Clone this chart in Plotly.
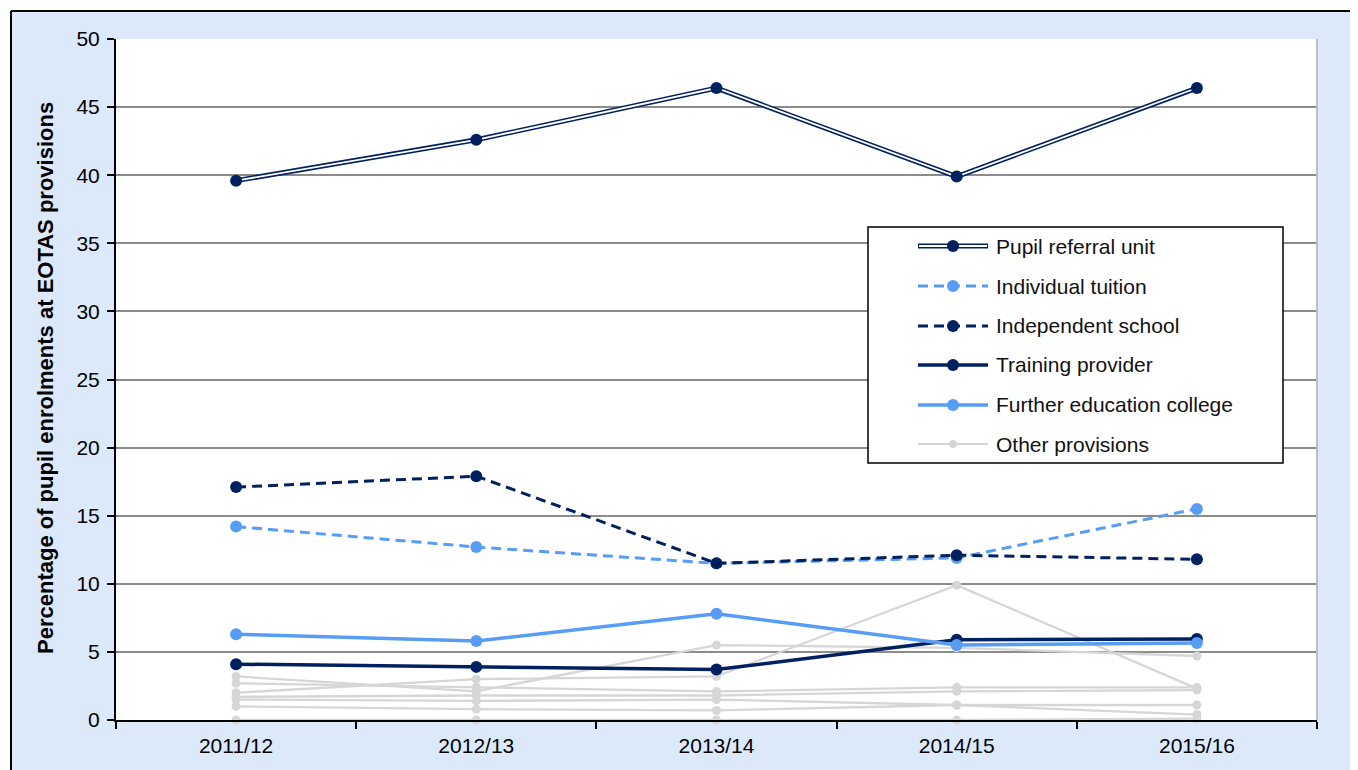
import plotly.graph_objects as go

years = ["2011/12", "2012/13", "2013/14", "2014/15", "2015/16"]

pupil_referral_unit = [39.6, 42.6, 46.4, 39.9, 46.4]
individual_tuition = [14.2, 12.7, 11.5, 11.9, 15.5]
independent_school = [17.1, 17.9, 11.5, 12.1, 11.8]
training_provider = [4.1, 3.9, 3.7, 5.9, 5.95]
further_education_college = [6.3, 5.8, 7.8, 5.5, 5.65]

other_provisions = [
    [3.2, 2.1, 5.5, 5.3, 4.7],
    [2.0, 3.0, 3.2, 9.9, 2.3],
    [2.7, 2.4, 2.1, 2.4, 2.4],
    [1.7, 1.8, 1.8, 2.1, 2.2],
    [1.5, 1.4, 1.5, 1.1, 1.1],
    [1.0, 0.8, 0.7, 1.1, 0.4],
    [0.0, 0.0, 0.0, 0.0, 0.1],
]

legend_labels = ["Pupil referral unit", "Individual tuition", "Independent school",
                 "Training provider", "Further education college", "Other provisions"]

NAVY = "#002060"
LIGHT = "#579DF6"
GREY = "#d6d6d6"
FONT = "Arial, Liberation Sans, sans-serif"

fig = go.Figure()

for s in other_provisions:
    fig.add_trace(go.Scatter(x=years, y=s, mode="lines+markers",
                             line=dict(color=GREY, width=2.3),
                             marker=dict(color=GREY, size=9),
                             cliponaxis=False, showlegend=False))

# Pupil referral unit (double line)
fig.add_trace(go.Scatter(x=years, y=pupil_referral_unit, mode="lines",
                         line=dict(color=NAVY, width=5), showlegend=False))
fig.add_trace(go.Scatter(x=years, y=pupil_referral_unit, mode="lines",
                         line=dict(color="white", width=1.8), showlegend=False))
fig.add_trace(go.Scatter(x=years, y=pupil_referral_unit, mode="markers",
                         marker=dict(color=NAVY, size=12), showlegend=False))

fig.add_trace(go.Scatter(x=years, y=individual_tuition, mode="lines+markers",
                         line=dict(color=LIGHT, width=3, dash="10px,6px"),
                         marker=dict(color=LIGHT, size=12), showlegend=False))
fig.add_trace(go.Scatter(x=years, y=independent_school, mode="lines+markers",
                         line=dict(color=NAVY, width=3, dash="10px,6px"),
                         marker=dict(color=NAVY, size=12), showlegend=False))
fig.add_trace(go.Scatter(x=years, y=training_provider, mode="lines+markers",
                         line=dict(color=NAVY, width=3.5),
                         marker=dict(color=NAVY, size=12), showlegend=False))
fig.add_trace(go.Scatter(x=years, y=further_education_college, mode="lines+markers",
                         line=dict(color=LIGHT, width=3.5),
                         marker=dict(color=LIGHT, size=12), showlegend=False))

# page body has an 8px margin; figure sized so that it fits the window
OFF = 8
W, H = 1358 - OFF, 770 - OFF
L, R, T, B = 116, 1317, 39, 720   # plot area in window pixels
pw, ph = R - L, B - T


def px(x):
    return (x - L) / pw


def py(y):
    return (B - y) / ph


shapes = []
annotations = []

# white strips outside the outer border, and the border itself
shapes.append(dict(type="rect", xref="paper", yref="paper", x0=px(-20), x1=px(11),
                   y0=py(800), y1=py(-20), fillcolor="white", line=dict(width=0), layer="below"))
shapes.append(dict(type="rect", xref="paper", yref="paper", x0=px(-20), x1=px(1400),
                   y0=py(11), y1=py(-20), fillcolor="white", line=dict(width=0), layer="below"))
shapes.append(dict(type="line", xref="paper", yref="paper", x0=px(11), x1=px(11),
                   y0=py(800), y1=py(11), line=dict(color="black", width=2)))
shapes.append(dict(type="line", xref="paper", yref="paper", x0=px(11), x1=px(1400),
                   y0=py(11), y1=py(11), line=dict(color="black", width=2)))
# plot area right border
shapes.append(dict(type="line", xref="paper", yref="paper", x0=1, x1=1, y0=0, y1=1,
                   line=dict(color="#bfbfbf", width=2)))

# manual legend
shapes.append(dict(type="rect", xref="paper", yref="paper", x0=px(868), x1=px(1283),
                   y0=py(463), y1=py(227), fillcolor="white", line=dict(color="black", width=1.5)))
row_y = [246, 286, 326, 365, 405, 444]
styles = [
    (NAVY, 5, "solid", 12, NAVY),
    (LIGHT, 3, "10px,6px", 12, LIGHT),
    (NAVY, 3, "10px,6px", 12, NAVY),
    (NAVY, 3.5, "solid", 12, NAVY),
    (LIGHT, 3.5, "solid", 12, LIGHT),
    (GREY, 2, "solid", 8, GREY),
]
for i, (lab, ry) in enumerate(zip(legend_labels, row_y)):
    col, wdt, dash, msz, mcol = styles[i]
    shapes.append(dict(type="line", xref="paper", yref="paper", x0=px(918), x1=px(988),
                       y0=py(ry), y1=py(ry), line=dict(color=col, width=wdt, dash=dash)))
    if i == 0:
        shapes.append(dict(type="line", xref="paper", yref="paper", x0=px(919), x1=px(987),
                           y0=py(ry), y1=py(ry), line=dict(color="white", width=1.8)))
    r = msz / 2
    shapes.append(dict(type="circle", xref="paper", yref="paper", xsizemode="pixel",
                       ysizemode="pixel", xanchor=px(953), yanchor=py(ry),
                       x0=-r, x1=r, y0=-r, y1=r, fillcolor=mcol, line=dict(color=mcol, width=0)))
    annotations.append(dict(xref="paper", yref="paper", x=px(994), y=py(ry), text=lab,
                            showarrow=False, xanchor="left", yanchor="middle",
                            font=dict(family=FONT, size=21, color="#111111")))

annotations.append(dict(xref="paper", yref="paper", x=px(45), y=py(378),
                        text="<b>Percentage of pupil enrolments at EOTAS provisions</b>",
                        textangle=-90, showarrow=False, xanchor="center", yanchor="middle",
                        font=dict(family=FONT, size=22, color="black")))

fig.update_layout(
    width=W, height=H,
    margin=dict(l=L - OFF, r=W - (R - OFF), t=T - OFF, b=H - (B - OFF), pad=0),
    paper_bgcolor="#dce9fb",
    plot_bgcolor="white",
    font=dict(family=FONT, size=21, color="black"),
    showlegend=False,
    shapes=shapes,
    annotations=annotations,
    xaxis=dict(type="category", range=[-0.5, 4.5], showgrid=False, showline=True,
               linecolor="black", linewidth=2, ticks="outside", tickson="boundaries",
               ticklen=7, tickwidth=2, tickcolor="black", ticklabelstandoff=6,
               tickfont=dict(family=FONT, size=21, color="black"), zeroline=False),
    yaxis=dict(range=[0, 50], dtick=5, showgrid=True, gridcolor="#8c8c8c", gridwidth=1.5,
               showline=True, linecolor="black", linewidth=2, ticks="outside",
               ticklen=7, tickwidth=2, tickcolor="black", ticklabelstandoff=3,
               tickfont=dict(family=FONT, size=21, color="black"), zeroline=False),
)

fig.write_html("out.html")
